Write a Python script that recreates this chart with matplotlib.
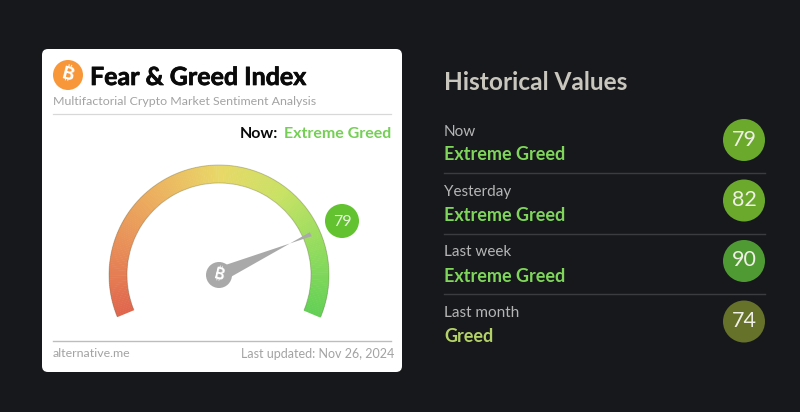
import numpy as np
import matplotlib
matplotlib.use("Agg")
import matplotlib.pyplot as plt
import matplotlib.patheffects as pe
from matplotlib.colors import LinearSegmentedColormap
from matplotlib.patches import Arc, Circle, FancyBboxPatch, Polygon, Wedge

# Data
gauge_value = 79
gauge_label = "Extreme Greed"
periods = ["Now", "Yesterday", "Last week", "Last month"]
hist_values = [79, 82, 90, 74]
hist_labels = ["Extreme Greed", "Extreme Greed", "Extreme Greed", "Greed"]
hist_label_colors = ["#7fd65a", "#7fd65a", "#7fd65a", "#b4d268"]
hist_circle_colors = ["#6aa92c", "#6aa92c", "#4f9a33", "#66712a"]
gauge_colors = ["#e0664d", "#e88e58", "#ecb25f", "#e8d868", "#c8e264", "#92dc5e", "#62d055"]

BG = "#16181b"
CX, CY = 219, 275
START, SWEEP = 202.5, 225
BTC_FONTS = ["Inter", "Roboto", "Open Sans", "Noto Sans", "Lato", "DejaVu Sans"]


def val_angle(v):
    return np.radians(START - SWEEP * v / 100)


fig = plt.figure(figsize=(8, 4.12), dpi=100, facecolor=BG)
ax = fig.add_axes([0, 0, 1, 1])
ax.set_xlim(0, 800)
ax.set_ylim(412, 0)
ax.axis("off")

# Card
ax.add_patch(FancyBboxPatch((48, 55), 348, 311, boxstyle="round,pad=6,rounding_size=6",
                            fc="white", ec="none"))

# Header
ax.add_patch(Circle((68, 75), 15, fc="#f7973a", ec="none"))
ax.text(68, 75, "\u20bf", color="white", fontsize=13, fontweight="bold", rotation=-14,
        ha="center", va="center", family=BTC_FONTS)
ax.text(90, 77.5, "Fear & Greed Index", color="#0a0a0a", fontsize=18, fontweight="bold",
        ha="left", va="center", family="Lato",
        path_effects=[pe.withStroke(linewidth=0.5, foreground="#0a0a0a")])
ax.text(53, 101, "Multifactorial Crypto Market Sentiment Analysis", color="#a3a3a3", fontsize=8.9,
        ha="left", va="center", family="Lato")
ax.plot([53, 391], [113.5, 113.5], color="#d8d8d8", lw=0.9)
ax.text(278, 133.5, "Now:", color="#0a0a0a", fontsize=11.5, fontweight="bold",
        ha="right", va="center", family="Lato")
ax.text(391, 133.5, gauge_label, color="#74cf54", fontsize=11.5, fontweight="bold",
        ha="right", va="center", family="Lato")

# Gauge arc
cmap = LinearSegmentedColormap.from_list("gauge", gauge_colors)
steps = 225
for i in range(steps):
    a1 = START - SWEEP * i / steps
    a2 = START - SWEEP * (i + 1) / steps - 0.3
    ax.add_patch(Wedge((CX, CY), 110, -a1, -a2, width=18, fc=cmap(i / steps), ec="none"))
for r in (110, 92):
    ax.add_patch(Arc((CX, CY), 2 * r, 2 * r, theta1=-START, theta2=-START + SWEEP,
                     color="#5a5a3a", alpha=0.3, lw=0.7))

# Needle
ang = val_angle(gauge_value)
ux, uy = np.cos(ang), -np.sin(ang)
tip = (CX + 101 * ux, CY + 101 * uy + 1.5)
base = (-uy * 7.5, ux * 7.5)
ax.add_patch(Polygon([(CX + base[0], CY + base[1]), (CX - base[0], CY - base[1]),
                      (tip[0] - uy * 2.2, tip[1] + ux * 2.2), (tip[0] + uy * 2.2, tip[1] - ux * 2.2)],
                     fc="#a9a9a9", ec="none", zorder=4))
ax.add_patch(Circle((CX, CY), 13, fc="#a9a9a9", ec="none", zorder=5))
ax.text(CX, CY, "\u20bf", color="white", fontsize=11, fontweight="bold", rotation=-14,
        ha="center", va="center", family=BTC_FONTS, zorder=6)

# Value bubble
ax.add_patch(Circle((342, 221), 17, fc="#62c22f", ec="none"))
ax.text(342, 221.5, str(gauge_value), color="#e8f5df", fontsize=11.5,
        ha="center", va="center", family="Lato")

# Footer
ax.plot([53, 391], [341, 341], color="#bdbdbd", lw=1)
ax.text(53, 353.5, "alternative.me", color="#a3a3a3", fontsize=8.9, ha="left", va="center", family="Lato")
ax.text(394, 353.5, "Last updated: Nov 26, 2024", color="#a3a3a3", fontsize=9, ha="right", va="center", family="Lato")

# Historical values
ax.text(444, 82, "Historical Values", color="#c9c6bd", fontsize=17.6, fontweight="bold",
        ha="left", va="center", family="Lato")
row_h = 60.5
for i, period in enumerate(periods):
    y0 = 130 + i * row_h
    ax.text(444, y0 + 1.5, period, color="#b5b5b5", fontsize=11, ha="left", va="center", family="Lato")
    ax.text(444, y0 + 25, hist_labels[i], color=hist_label_colors[i], fontsize=13, fontweight="bold",
            ha="left", va="center", family="Lato")
    ax.add_patch(Circle((744, y0 + 10), 21, fc=hist_circle_colors[i], ec="none"))
    ax.text(744.5, y0 + 9.5, str(hist_values[i]), color="#f0f0e6", fontsize=15.5, ha="center", va="center",
            family="Lato")
    if i < len(periods) - 1:
        ax.plot([444, 765], [y0 + 43, y0 + 43], color="#3a3c3f", lw=1)

fig.savefig("out.png", dpi=100, facecolor=BG)
